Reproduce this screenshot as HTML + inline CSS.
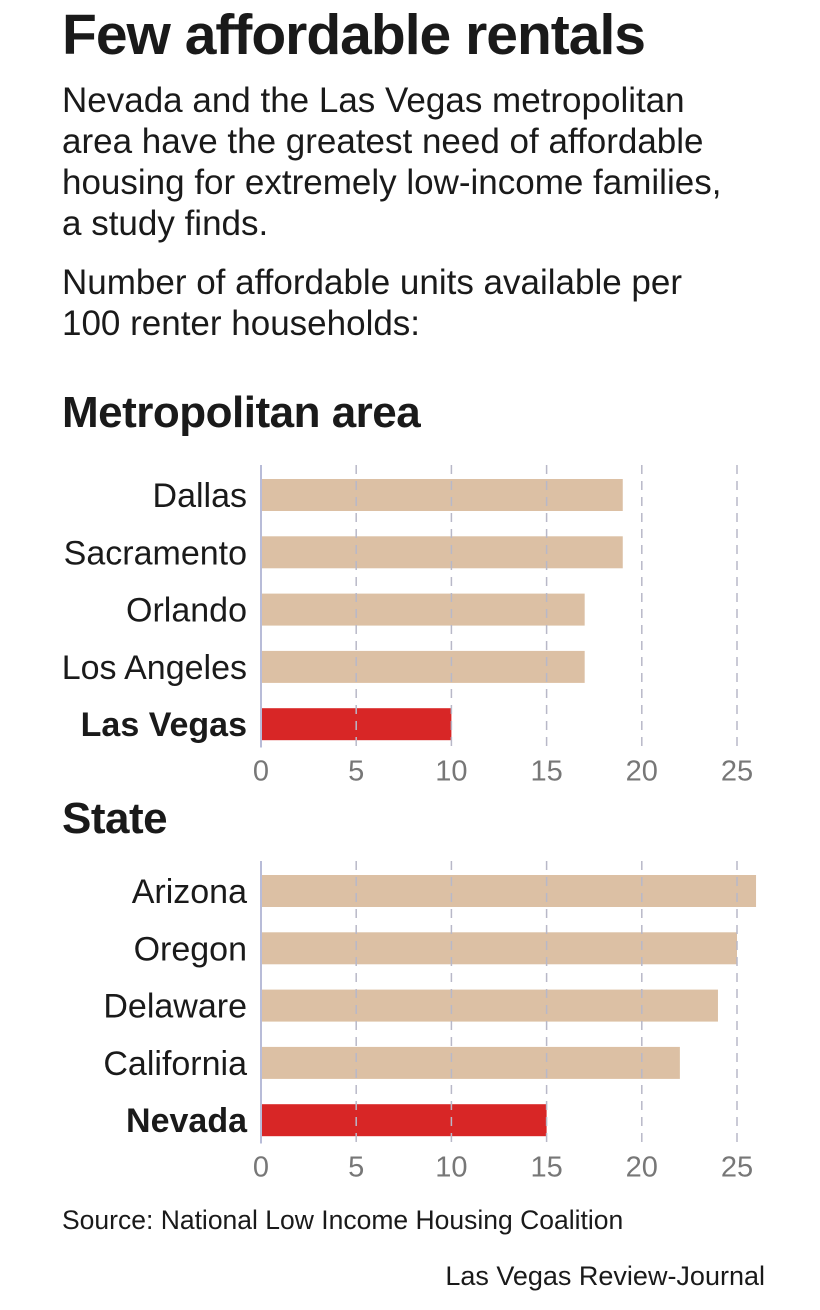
<!DOCTYPE html>
<html><head><meta charset="utf-8">
<style>
body{margin:0;width:820px;height:1310px;background:#fff;font-family:"Liberation Sans",sans-serif;color:#1a1a1a;position:relative;overflow:hidden}
.t{position:absolute;white-space:nowrap}
</style></head><body>
<div class="t" style="left:62px;top:2px;font-size:57px;font-weight:bold;letter-spacing:-1px">Few affordable rentals</div>
<div class="t" style="left:62px;top:80px;font-size:35px;line-height:41px">Nevada and the Las Vegas metropolitan<br>area have the greatest need of affordable<br>housing for extremely low-income families,<br>a study finds.</div>
<div class="t" style="left:62px;top:262px;font-size:35px;line-height:41px">Number of affordable units available per<br>100 renter households:</div>
<div class="t" style="left:62px;top:388px;font-size:44px;font-weight:bold;letter-spacing:-0.5px">Metropolitan area</div>
<div class="t" style="left:62px;top:794px;font-size:44px;font-weight:bold;letter-spacing:-0.5px">State</div>
<svg id="chart" width="820" height="1310" style="position:absolute;left:0;top:0"></svg>
<div class="t" style="left:62px;top:1205px;font-size:26.5px">Source: National Low Income Housing Coalition</div>
<div class="t" style="right:55px;top:1261px;font-size:27px">Las Vegas Review-Journal</div>
<script>
const metroCategories=["Dallas","Sacramento","Orlando","Los Angeles","Las Vegas"];
const metroValues=[19,19,17,17,10];
const stateCategories=["Arizona","Oregon","Delaware","California","Nevada"];
const stateValues=[26,25,24,22,15];
const tickLabels=[0,5,10,15,20,25];
const highlight=["Las Vegas","Nevada"];
const svg=document.getElementById('chart');
const NS='http://www.w3.org/2000/svg';
const x=v=>261+v*19.04;
function mk(tag,attrs){const e=document.createElementNS(NS,tag);for(const k in attrs)e.setAttribute(k,attrs[k]);svg.appendChild(e);return e;}
function drawChart(cats,vals,top,key){
  const step=57.3,bh=32;
  const bottom=top+cats.length*step-4;
  cats.forEach((c,i)=>{
    const y=top+14+i*step;
    const hl=highlight.includes(c);
    const r=mk('rect',{x:x(0),y:y,width:x(vals[i])-x(0),height:bh,fill:hl?'#d82626':'#dcc0a4'});
    
    
    const t=mk('text',{x:247,y:y+bh/2+12,'text-anchor':'end','font-size':34,'font-weight':hl?'bold':'normal',fill:'#1a1a1a'});
    t.textContent=c;
    
    
  });
  tickLabels.forEach(v=>{
    if(v>0){const g=mk('line',{x1:x(v),x2:x(v),y1:top,y2:bottom,stroke:'#b8b8c8','stroke-width':1.5,'stroke-dasharray':'9 7'});
    
    }
    const t=mk('text',{x:x(v),y:bottom+33,'text-anchor':'middle','font-size':29,fill:'#777'});
    t.textContent=v;
    
    
  });
  const a=mk('line',{x1:x(0),x2:x(0),y1:top,y2:bottom,stroke:'#b8bcd8','stroke-width':2});
  
  
}
drawChart(metroCategories,metroValues,465,'metro');
drawChart(stateCategories,stateValues,861,'state');
</script>
</body></html>
